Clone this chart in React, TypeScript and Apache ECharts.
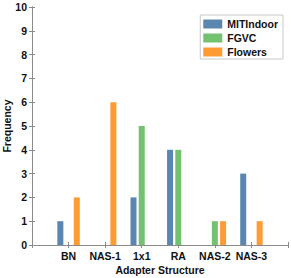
import React, { useEffect, useRef } from "react";
import * as echarts from "echarts";

const categories = ["BN", "NAS-1", "1x1", "RA", "NAS-2", "NAS-3"];
const mitIndoor = [1, 0, 2, 4, 0, 3];
const fgvc = [0, 0, 5, 4, 1, 0];
const flowers = [2, 6, 0, 0, 1, 1];
const seriesNames = ["MITIndoor", "FGVC", "Flowers"];
const seriesColors = ["#5a86b0", "#72c26f", "#ff9b33"];

const FONT = "Liberation Sans, Arial, Helvetica, sans-serif";

export default function App() {
  const ref = useRef<HTMLDivElement>(null);
  useEffect(() => {
    if (!ref.current) return;
    const chart = echarts.init(ref.current, undefined, { renderer: "svg" });
    const values = [mitIndoor, fgvc, flowers];
    const axisColor = "#8a8a8a";
    const catLabel = (v: number) => {
      const i = Math.round(v) - 1;
      return i >= 0 && i < categories.length ? categories[i] : "";
    };
    chart.setOption({
      animation: false,
      grid: { left: 32, right: 3, top: 7, bottom: 33, containLabel: false, outerBoundsMode: "none" },
      legend: {
        data: seriesNames,
        orient: "vertical",
        right: 8,
        top: 15,
        icon: "rect",
        itemWidth: 19,
        itemHeight: 9,
        itemGap: 2,
        padding: [3, 5, 1, 3],
        backgroundColor: "#ffffff",
        borderColor: "#c8c8c8",
        borderWidth: 1,
        borderRadius: 0,
        textStyle: { fontFamily: FONT, fontWeight: "bold", fontSize: 10.5, lineHeight: 12, color: "#111" },
      },
      xAxis: [
        {
          type: "value",
          min: 0,
          max: 7,
          interval: 1,
          name: "Adapter Structure",
          nameLocation: "middle",
          nameGap: 19,
          nameMoveOverlap: false,
          nameTextStyle: { fontFamily: FONT, fontWeight: "bold", fontSize: 10.5, color: "#111" },
          axisLine: { show: true, lineStyle: { color: axisColor, width: 1 } },
          axisTick: { show: true, inside: true, length: 3, lineStyle: { color: axisColor } },
          axisLabel: {
            formatter: catLabel,
            fontFamily: FONT,
            fontWeight: "bold",
            fontSize: 10.5,
            color: "#111",
            margin: 5,
            showMinLabel: true,
            showMaxLabel: true,
          },
          splitLine: { show: false },
        },
        {
          type: "value",
          position: "top",
          min: 0,
          max: 7,
          interval: 1,
          axisLine: { show: true, lineStyle: { color: axisColor, width: 1 } },
          axisTick: { show: true, inside: true, length: 3, lineStyle: { color: axisColor } },
          axisLabel: { show: false },
          splitLine: { show: false },
        },
      ],
      yAxis: [
        {
          type: "value",
          min: 0,
          max: 10,
          interval: 1,
          name: "Frequency",
          nameLocation: "middle",
          nameGap: 20,
          nameMoveOverlap: false,
          nameTextStyle: { fontFamily: FONT, fontWeight: "bold", fontSize: 10.5, color: "#111" },
          axisLine: { show: true, lineStyle: { color: axisColor, width: 1 } },
          axisTick: { show: true, inside: true, length: 3, lineStyle: { color: axisColor } },
          axisLabel: { fontFamily: FONT, fontWeight: "bold", fontSize: 10.5, color: "#111", margin: 5 },
          splitLine: { show: false },
        },
        {
          type: "value",
          position: "right",
          min: 0,
          max: 10,
          interval: 1,
          axisLine: { show: true, lineStyle: { color: axisColor, width: 1 } },
          axisTick: { show: true, inside: true, length: 3, lineStyle: { color: axisColor } },
          axisLabel: { show: false },
          splitLine: { show: false },
        },
      ],
      series: seriesNames.map((name, s) => ({
        name,
        type: "bar",
        xAxisIndex: 0,
        yAxisIndex: 0,
        barWidth: 6,
        barGap: "37%",
        itemStyle: { color: seriesColors[s], borderColor: seriesColors[s], borderWidth: 0 },
        data: values[s].map((v, i) => [i + 1, v]),
      })),
    });
    return () => chart.dispose();
  }, []);
  return (
    <div
      ref={ref}
      style={{ position: "absolute", left: 0, top: 0, width: 291, height: 278, background: "#fff" }}
    />
  );
}
